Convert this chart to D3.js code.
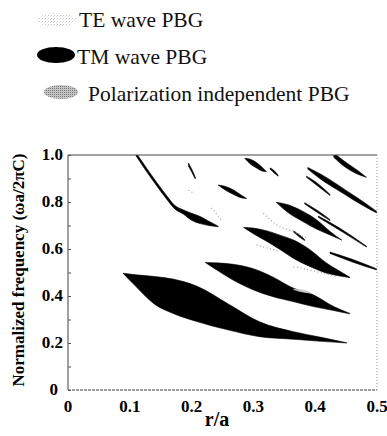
<!DOCTYPE html>
<html>
<head>
<meta charset="utf-8">
<script src="https://cdn.jsdelivr.net/npm/d3@7"></script>
<style>
  body { margin: 0; background: #fff; }
  svg text { font-family: "Liberation Serif", "DejaVu Serif", serif; }
</style>
</head>
<body>
<div id="chart"></div>
<script>
// TM wave gaps: rows of [r/a, lower freq, upper freq]
const tmBig = [[0.089,0.497,0.497],[0.11,0.44,0.49],[0.14,0.365,0.483],[0.17,0.326,0.472],[0.21,0.29,0.44],
  [0.26,0.255,0.365],[0.31,0.227,0.29],[0.365,0.216,0.248],[0.41,0.207,0.224],[0.451,0.2,0.201]];
const tmSecond = [[0.222,0.543,0.543],[0.24,0.512,0.541],[0.267,0.468,0.535],[0.30,0.426,0.516],[0.332,0.397,0.48],
  [0.365,0.376,0.433],[0.397,0.355,0.405],[0.43,0.338,0.355],[0.456,0.324,0.326]];
const tmThird = [[0.284,0.692,0.692],[0.30,0.665,0.689],[0.322,0.632,0.677],[0.343,0.598,0.659],[0.365,0.56,0.638],
  [0.392,0.525,0.596],[0.419,0.497,0.539],[0.44,0.485,0.505],[0.456,0.478,0.48]];
const tmFourth = [[0.337,0.799,0.799],[0.355,0.757,0.789],[0.378,0.72,0.763],[0.402,0.685,0.725],[0.424,0.66,0.675],[0.443,0.638,0.638]];
const tmCurve = [[0.110,0.997,1.01],[0.127,0.93,0.945],[0.144,0.867,0.882],[0.160,0.811,0.826],[0.173,0.770,0.785],
  [0.187,0.748,0.766],[0.200,0.722,0.752],[0.214,0.708,0.738],[0.228,0.700,0.718],[0.243,0.695,0.697]];
const tmSmallA = [[0.243,0.872,0.872],[0.255,0.850,0.866],[0.268,0.832,0.851],[0.280,0.818,0.830],[0.289,0.815,0.815]];
const tmSmallB = [[0.195,0.952,0.966],[0.2005,0.926,0.938],[0.206,0.898,0.905]];
const tmTopA = [[0.286,0.986,0.986],[0.295,0.962,0.982],[0.305,0.945,0.968],[0.314,0.932,0.948],[0.321,0.929,0.929]];
const tmTopA2 = [[0.327,0.94,0.945],[0.333,0.925,0.935],[0.340,0.91,0.914]];
const tmTopB = [[0.430,0.99,1.01],[0.445,0.955,0.978],[0.46,0.93,0.95],[0.472,0.915,0.928],[0.483,0.905,0.905]];
const tmLongLine = [[0.388,0.94,0.947],[0.41,0.895,0.917],[0.435,0.853,0.876],[0.46,0.812,0.832],[0.48,0.781,0.797],[0.502,0.75,0.755]];
const tmLineG = [[0.386,0.905,0.91],[0.405,0.866,0.877],[0.424,0.828,0.832]];
const tmLineH = [[0.383,0.792,0.797],[0.403,0.756,0.765],[0.424,0.721,0.725]];
const tmLineI = [[0.405,0.735,0.740],[0.445,0.671,0.680],[0.483,0.608,0.612]];
const tmLineJ = [[0.365,0.672,0.677],[0.374,0.652,0.661],[0.383,0.636,0.640]];
const tmLineK = [[0.424,0.581,0.587],[0.46,0.545,0.556],[0.502,0.509,0.513]];
const tmBands = [tmBig, tmSecond, tmThird, tmFourth, tmCurve, tmSmallA, tmSmallB, tmTopA, tmTopA2,
  tmTopB, tmLongLine, tmLineG, tmLineH, tmLineI, tmLineJ, tmLineK];

// TE wave gap traces (faint stippled), points [r/a, freq]
const teTraceA = [[0.316,0.752],[0.338,0.702],[0.365,0.674],[0.386,0.646]];
const teTraceB = [[0.305,0.617],[0.343,0.589]];
const teTraceC = [[0.365,0.525],[0.40,0.505],[0.435,0.482]];
const teTraceD = [[0.195,0.85],[0.205,0.835]];
const teTraceE = [[0.232,0.775],[0.25,0.72]];
const teTraces = [teTraceA, teTraceB, teTraceC, teTraceD, teTraceE];

// polarization independent gap inside TM band
const polarBand = [[0.365,0.428,0.428],[0.378,0.418,0.426],[0.392,0.413,0.413]];

const xTicks = [0, 0.1, 0.2, 0.3, 0.4, 0.5];
const yTicks = [0, 0.2, 0.4, 0.6, 0.8, 1.0];
const legendItems = ["TE wave PBG", "TM wave PBG", "Polarization independent PBG"];

const W = 387, H = 436;
const serif = "Liberation Serif, DejaVu Serif, serif";
const svg = d3.select("#chart").append("svg").attr("width", W).attr("height", H);

const x = d3.scaleLinear().domain([0, 0.5]).range([68, 377]);
const y = d3.scaleLinear().domain([0, 1]).range([390, 155]);

const defs = svg.append("defs");
defs.append("clipPath").attr("id", "plot-clip")
  .append("rect").attr("x", x(0)).attr("y", y(1)).attr("width", x(0.5) - x(0)).attr("height", y(0) - y(1));

const teFill = defs.append("pattern").attr("id", "te-fill").attr("width", 3).attr("height", 3)
  .attr("patternUnits", "userSpaceOnUse");
teFill.append("rect").attr("width", 1).attr("height", 1).attr("fill", "#c8c8c8");
teFill.append("rect").attr("x", 2).attr("y", 1).attr("width", 1).attr("height", 1).attr("fill", "#dcdcdc");

const polFill = defs.append("pattern").attr("id", "pol-fill").attr("width", 2).attr("height", 2)
  .attr("patternUnits", "userSpaceOnUse");
polFill.append("rect").attr("width", 2).attr("height", 2).attr("fill", "#c4c4c4");
polFill.append("rect").attr("width", 1).attr("height", 1).attr("fill", "#7a7a7a");

// Legend
const legend = svg.append("g");
const symbols = [
  {cx: 57, cy: 20, rx: 19, ry: 7, fill: "url(#te-fill)"},
  {cx: 56, cy: 55, rx: 19, ry: 8, fill: "#000"},
  {cx: 61, cy: 92, rx: 17, ry: 7, fill: "url(#pol-fill)"}
];
const labelX = [79, 77, 88];
const labelY = [27, 64, 101];
legendItems.forEach((t, i) => {
  legend.append("ellipse").attr("cx", symbols[i].cx).attr("cy", symbols[i].cy)
    .attr("rx", symbols[i].rx).attr("ry", symbols[i].ry).attr("fill", symbols[i].fill);
  legend.append("text").attr("x", labelX[i]).attr("y", labelY[i])
    .attr("font-family", serif).attr("font-size", 21.5).attr("fill", "#111").text(t);
});

// Bands
const plot = svg.append("g").attr("clip-path", "url(#plot-clip)");
const area = d3.area()
  .x(d => x(d[0]))
  .y0(d => y(d[1]))
  .y1(d => y(d[2]))
  .curve(d3.curveMonotoneX);

plot.selectAll(".tm").data(tmBands).enter().append("path")
  .attr("class", "tm").attr("d", area).attr("fill", "#000")
  .attr("stroke", "#000").attr("stroke-width", 0.6);

plot.append("path").datum(polarBand).attr("d", area).attr("fill", "#ddd")
  .attr("stroke", "#bbb").attr("stroke-width", 0.8);

const line = d3.line().x(d => x(d[0])).y(d => y(d[1])).curve(d3.curveMonotoneX);
plot.selectAll(".te").data(teTraces).enter().append("path")
  .attr("class", "te").attr("d", line).attr("fill", "none")
  .attr("stroke", "#aaa").attr("stroke-width", 1.4).attr("stroke-dasharray", "1,2.5");

// Frame
const frame = svg.append("g");
frame.append("line").attr("x1", x(0)).attr("x2", x(0)).attr("y1", y(1)).attr("y2", y(0))
  .attr("stroke", "#444").attr("stroke-width", 1);
frame.append("line").attr("x1", x(0)).attr("x2", x(0.5)).attr("y1", y(1)).attr("y2", y(1))
  .attr("stroke", "#444").attr("stroke-width", 1);
frame.append("line").attr("x1", x(0)).attr("x2", x(0.5)).attr("y1", y(0)).attr("y2", y(0))
  .attr("stroke", "#444").attr("stroke-width", 1).attr("stroke-dasharray", "3,1");
frame.append("line").attr("x1", x(0.5)).attr("x2", x(0.5)).attr("y1", y(1)).attr("y2", y(0))
  .attr("stroke", "#999").attr("stroke-width", 1).attr("stroke-dasharray", "1,2");

// Axes
const yAxis = svg.append("g").attr("transform", `translate(${x(0)},0)`)
  .call(d3.axisRight(y).tickValues(d3.range(0, 1.01, 0.1)).tickSize(3).tickFormat(""));
yAxis.select(".domain").remove();
yAxis.selectAll("line").attr("stroke", "#555");

svg.selectAll(".ylab").data(yTicks).enter().append("text")
  .attr("class", "ylab").attr("x", d => d === 0 ? 58 : 63).attr("y", d => y(d) + 5)
  .attr("text-anchor", "end").attr("font-family", serif).attr("font-size", 17).attr("font-weight", "bold")
  .text(d => d === 0 ? "0" : d.toFixed(1));

svg.selectAll(".xlab").data(xTicks).enter().append("text")
  .attr("class", "xlab").attr("x", d => x(d)).attr("y", 412)
  .attr("text-anchor", "middle").attr("font-family", serif).attr("font-size", 17).attr("font-weight", "bold")
  .text(d => d === 0 ? "0" : d.toFixed(1));

svg.append("text").attr("x", 217).attr("y", 426).attr("text-anchor", "middle")
  .attr("font-family", serif).attr("font-size", 20).attr("font-weight", "bold").text("r/a");

svg.append("text").attr("transform", "translate(24,270) rotate(-90)")
  .attr("text-anchor", "middle").attr("font-family", serif).attr("font-size", 17).attr("font-weight", "bold")
  .text("Normalized frequency (\u03c9a/2\u03c0C)");
</script>
</body>
</html>
